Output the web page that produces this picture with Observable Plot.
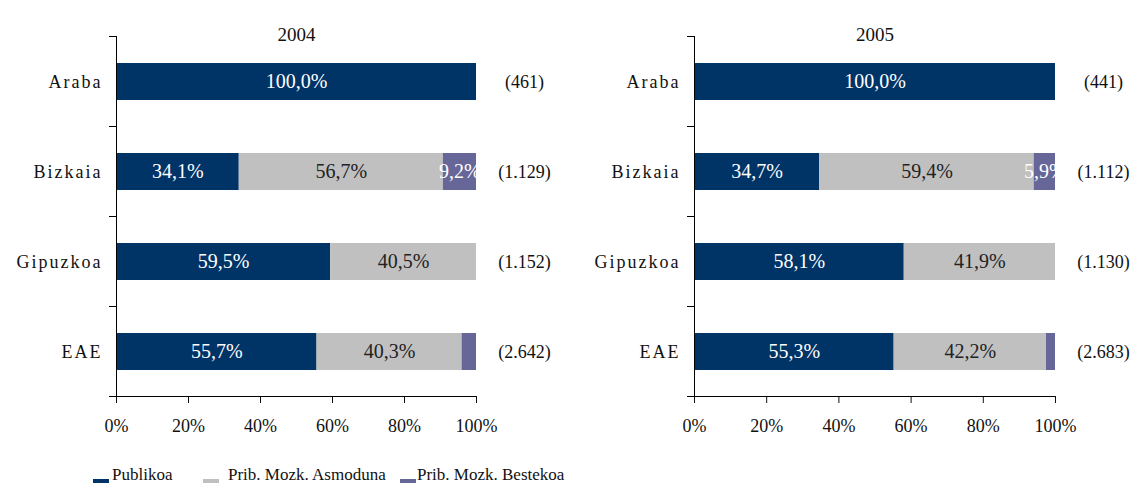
<!DOCTYPE html>
<html>
<head>
<meta charset="utf-8">
<script src="https://cdn.jsdelivr.net/npm/d3@7"></script>
<script src="https://cdn.jsdelivr.net/npm/@observablehq/plot@0.6"></script>
<style>
  html, body { margin: 0; padding: 0; background: #fff; }
  #wrap { position: relative; width: 1135px; height: 483px; overflow: hidden; font-family: "Liberation Serif", "DejaVu Serif", serif; }
  #wrap svg { position: absolute; top: 0; font-family: "Liberation Serif", "DejaVu Serif", serif; }
  #wrap svg text { font-family: "Liberation Serif", "DejaVu Serif", serif; }
  g[aria-label="y-axis tick label"] text { letter-spacing: 2px; }
  .lg-sw { position: absolute; width: 16px; height: 10px; top: 479px; }
  .lg-tx { position: absolute; top: 467px; font-size: 17px; line-height: 16px; color: #111; white-space: nowrap; }
</style>
</head>
<body>
<div id="wrap"></div>
<script>
// ---- data ----
const years = ["2004", "2005"];
const categories = ["Araba", "Bizkaia", "Gipuzkoa", "EAE"];
const series = ["Publikoa", "Prib. Mozk. Asmoduna", "Prib. Mozk. Bestekoa"];
const colors = ["#003366", "#c0c0c0", "#666699"];

const publikoa2004 = [100.0, 34.1, 59.5, 55.7];
const asmoduna2004 = [0, 56.7, 40.5, 40.3];
const bestekoa2004 = [0, 9.2, 0, 4.0];
const counts2004 = ["(461)", "(1.129)", "(1.152)", "(2.642)"];

const publikoa2005 = [100.0, 34.7, 58.1, 55.3];
const asmoduna2005 = [0, 59.4, 41.9, 42.2];
const bestekoa2005 = [0, 5.9, 0, 2.5];
const counts2005 = ["(441)", "(1.112)", "(1.130)", "(2.683)"];

const xTicks = [0, 20, 40, 60, 80, 100];

// ---- helpers ----
const FONT = '"Liberation Serif", "DejaVu Serif", serif';
const fmt = v => d3.format(".1f")(v).replace(".", ",") + "%";

function panel(year, vals, counts, opts) {
  const rows = [];
  categories.forEach((c, i) => series.forEach((s, j) => rows.push({cat: c, series: s, value: vals[j][i]})));
  const countRows = categories.map((c, i) => ({cat: c, n: counts[i]}));
  const svg = Plot.plot({
    width: opts.width,
    height: 445,
    marginTop: 36,
    marginBottom: 49,
    marginLeft: opts.marginLeft,
    marginRight: opts.marginRight,
    style: {fontFamily: FONT, fontSize: "18px", color: "#111", background: "transparent", overflow: "visible"},
    x: {domain: [0, 100], label: null},
    y: {domain: categories, paddingInner: 0.589, paddingOuter: 0.2945, align: 0.5, label: null},
    color: {domain: series, range: colors},
    marks: [
      Plot.barX(rows, Plot.stackX({x: "value", y: "cat", fill: "series"})),
      Plot.text(rows, Plot.stackX({
        x: "value", y: "cat",
        text: d => (d.series !== series[1] && d.value >= 5) ? fmt(d.value) : null,
        fill: "white", fontSize: 20, fontFamily: FONT
      })),
      Plot.text(rows, Plot.stackX({
        x: "value", y: "cat",
        text: d => (d.series === series[1] && d.value >= 5) ? fmt(d.value) : null,
        fill: "#222", fontSize: 20, fontFamily: FONT
      })),
      Plot.text(countRows, {x: () => 100, y: "cat", text: "n", dx: 48, fontSize: 18, fill: "#111", fontFamily: FONT}),
      Plot.text([year], {frameAnchor: "top", dy: -9, fontSize: 19, fill: "#111", fontFamily: FONT}),
      Plot.ruleX([0], {stroke: "#000"}),
      Plot.axisX({ticks: xTicks, tickFormat: d => d + "%", tickSize: 7, tickPadding: 16, fontSize: 18, anchor: "bottom", label: null, fontFamily: FONT}),
      Plot.axisY({tickSize: 0, tickPadding: 14, fontSize: 18, anchor: "left", label: null, fontFamily: FONT})
    ]
  });
  // category boundary ticks and bottom axis line from the library's scales
  const ys = svg.scale("y"), xs = svg.scale("x");
  const gap = (ys.step - ys.bandwidth) / 2;
  const bounds = categories.map(c => ys.apply(c) - gap);
  bounds.push(ys.apply(categories[categories.length - 1]) + ys.bandwidth + gap);
  const g = d3.select(svg).append("g").attr("stroke", "#000").attr("stroke-width", 1);
  const x0 = xs.apply(0), x1 = xs.apply(100);
  bounds.forEach(b => g.append("line").attr("x1", x0 - 7).attr("x2", x0).attr("y1", b).attr("y2", b));
  const yb = bounds[bounds.length - 1];
  g.append("line").attr("x1", x0).attr("x2", x1).attr("y1", yb).attr("y2", yb);
  return svg;
}

const wrap = document.getElementById("wrap");
const left = panel(years[0], [publikoa2004, asmoduna2004, bestekoa2004], counts2004, {width: 568, marginLeft: 116, marginRight: 92});
left.style.left = "0px";
wrap.appendChild(left);
const right = panel(years[1], [publikoa2005, asmoduna2005, bestekoa2005], counts2005, {width: 567, marginLeft: 126, marginRight: 80});
right.style.left = "568px";
wrap.appendChild(right);

// legend
const swX = [93, 203, 400];
const txX = [112, 228, 417];
series.forEach((s, i) => {
  const sw = document.createElement("div");
  sw.className = "lg-sw";
  sw.style.left = swX[i] + "px";
  sw.style.background = colors[i];
  wrap.appendChild(sw);
  const tx = document.createElement("div");
  tx.className = "lg-tx";
  tx.style.left = txX[i] + "px";
  tx.textContent = s;
  wrap.appendChild(tx);
});
</script>
</body>
</html>
